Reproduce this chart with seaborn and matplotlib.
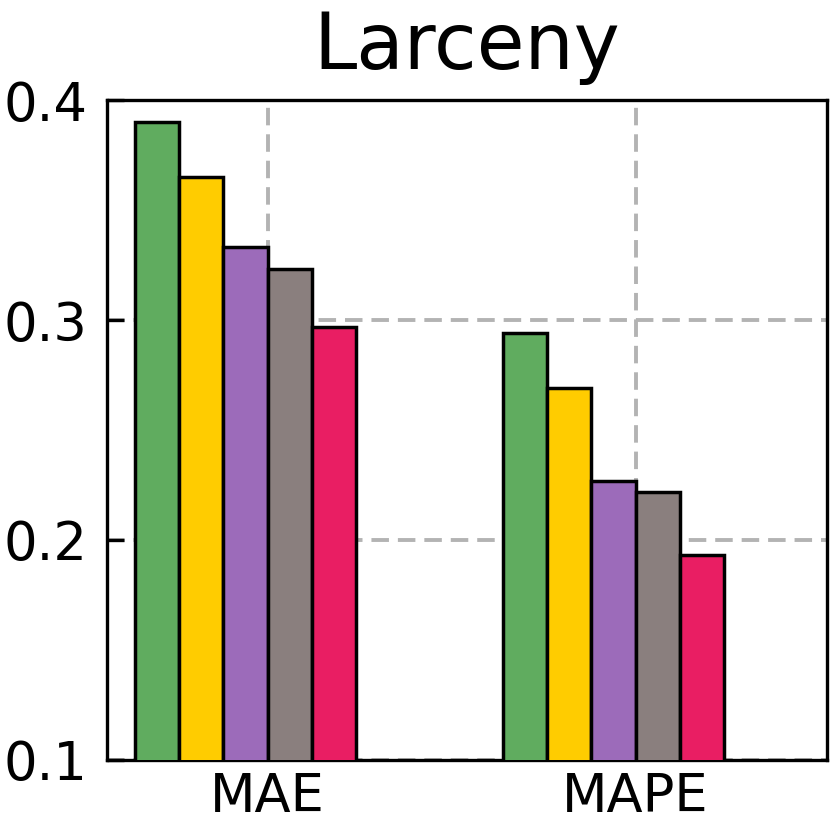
import pandas as pd
import matplotlib
matplotlib.use("Agg")
import matplotlib.pyplot as plt
import seaborn as sns

# Values
metrics = ["MAE", "MAPE"]
models = ["M1", "M2", "M3", "M4", "M5"]
mae_values = [0.390, 0.365, 0.333, 0.323, 0.297]
mape_values = [0.294, 0.269, 0.227, 0.222, 0.193]
colors = ["#60ac5f", "#ffcc00", "#9c6bba", "#8a7f7e", "#e91e63"]
yticks = [0.1, 0.2, 0.3, 0.4]
ytick_labels = ["0.1", "0.2", "0.3", "0.4"]

df = pd.DataFrame({
    "metric": [m for m in metrics for _ in models],
    "model": models * len(metrics),
    "value": mae_values + mape_values,
})

sns.set_style("white")
plt.rcParams["font.family"] = ["DejaVu Sans"]
plt.rcParams["text.color"] = "black"
plt.rcParams["xtick.color"] = "black"
plt.rcParams["ytick.color"] = "black"

fig = plt.figure(figsize=(8.31, 8.24), dpi=100)
ax = fig.add_axes([0.1288, 0.0777, 0.8664, 0.8009])

sns.barplot(data=df, x="metric", y="value", hue="model", palette=colors,
            saturation=1, width=0.6, gap=0, edgecolor="black", linewidth=2.5,
            legend=False, ax=ax, zorder=3)

ax.set_ylim(0.1, 0.4)
ax.set_xlim(-0.376, 1.580)
ax.set_yticks(yticks)
ax.set_yticklabels(ytick_labels)
ax.set_xticks([0.06, 1.06])
ax.set_xticklabels(metrics)
ax.set_xlabel("")
ax.set_ylabel("")

ax.grid(True, linestyle=(0, (4.5, 2.3)), color="#b3b3b3", linewidth=2.8, zorder=0)
ax.set_axisbelow(True)

ax.tick_params(axis="y", left=True, direction="in", length=12, width=2.4,
               labelsize=38, pad=14, colors="black")
ax.tick_params(axis="x", bottom=True, direction="in", length=0, labelsize=38,
               pad=8, colors="black")
for s in ax.spines.values():
    s.set_linewidth(2.4)
    s.set_color("black")

ax.set_title("Larceny", fontsize=56, pad=22, color="black")

fig.savefig("out.png", dpi=100)
